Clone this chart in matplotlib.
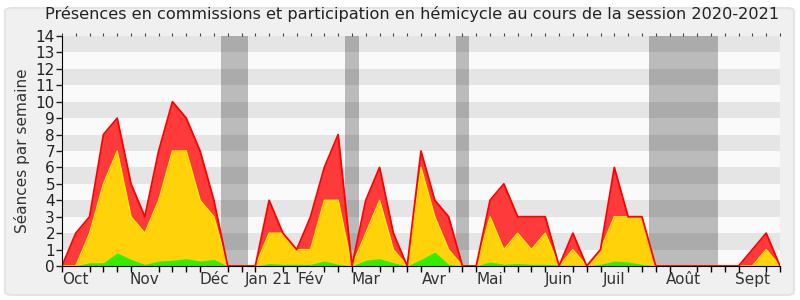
import matplotlib
matplotlib.use("Agg")
import matplotlib.pyplot as plt
from matplotlib.patches import FancyBboxPatch
import numpy as np

# Weekly values (session 2020-2021), week index 0..52
hemicycle = [0, 2, 3, 8, 9, 5, 3, 7, 10, 9, 7, 4, 0, 0, 0, 4, 2, 1, 3, 6, 8, 0,
             4, 6, 2, 0, 7, 4, 3, 0, 0, 4, 5, 3, 3, 3, 0, 2, 0, 1, 6, 3, 3, 0,
             0, 0, 0, 0, 0, 0, 1, 2, 0]
commission = [0, 0, 2, 5, 7, 3, 2, 4, 7, 7, 4, 3, 0, 0, 0, 2, 2, 1, 1, 4, 4, 0,
              2, 4, 1, 0, 6, 3, 1, 0, 0, 3, 1, 2, 1, 2, 0, 1, 0, 1, 3, 3, 3, 0,
              0, 0, 0, 0, 0, 0, 0, 1, 0]
interventions = [0, 0, 0.2, 0.2, 0.8, 0.4, 0.1, 0.3, 0.35, 0.45, 0.3, 0.4, 0, 0, 0,
                 0.15, 0.1, 0.1, 0.1, 0.3, 0.1, 0, 0.35, 0.45, 0.2, 0, 0.4, 0.85,
                 0.1, 0, 0, 0.25, 0.1, 0.15, 0.1, 0.1, 0.05, 0.05, 0, 0.1, 0.3,
                 0.25, 0.1, 0, 0, 0, 0, 0, 0, 0, 0, 0, 0]
vacations = [(11.5, 13.5), (20.5, 21.5), (28.5, 29.5), (42.5, 47.5)]
month_labels = ["Oct", "Nov", "Déc", "Jan 21", "Fév", "Mar", "Avr", "Mai",
                "Juin", "Juil", "Août", "Sept"]
month_weeks = [1, 6, 11, 15, 18, 22, 27, 31, 36, 40, 45, 50]
title = "Présences en commissions et participation en hémicycle au cours de la session 2020-2021"
ylabel = "Séances par semaine"

plt.rcParams['font.family'] = ['DejaVu Sans']
fig = plt.figure(figsize=(8, 3), dpi=100)
fig.patch.set_facecolor("#ffffff")
bg = FancyBboxPatch((5 / 800, 5 / 300), 789 / 800, 287 / 300,
                    boxstyle="round,pad=0,rounding_size=0.01",
                    transform=fig.transFigure, facecolor="#f0f0f0",
                    edgecolor="#e4e4e4", linewidth=1.5, zorder=-10)
fig.patches.append(bg)

ax = fig.add_axes([62 / 800, 34 / 300, 718 / 800, 230 / 300])
ax.set_facecolor("#fafafa")
x = np.arange(len(hemicycle))
ax.set_xlim(0, len(hemicycle) - 1)
ax.set_ylim(0, 14)

for k in range(1, 14, 2):
    ax.axhspan(k, k + 1, color="#e5e5e5", lw=0, zorder=0)
for a, b in vacations:
    ax.axvspan(a, b, color="black", alpha=0.25, lw=0, zorder=1)

ax.fill_between(x, 0, hemicycle, color="#ff3a3a", lw=0, zorder=2)
ax.plot(x, hemicycle, color="#ff0000", lw=1.3, zorder=5)
ax.fill_between(x, 0, commission, color="#ffd20a", lw=0, zorder=3)
ax.plot(x, commission, color="#ffee00", lw=1.0, zorder=4)
ax.fill_between(x, 0, interventions, color="#33ee00", lw=0, zorder=4)

for s in ["top", "right"]:
    ax.spines[s].set_visible(False)
ax.spines["left"].set_color("black")
ax.spines["bottom"].set_color("black")
ax.spines["left"].set_zorder(6)
ax.spines["bottom"].set_zorder(6)

ax.set_yticks(range(0, 15))
ax.tick_params(axis="y", length=4, width=1, labelsize=11, pad=1, colors="#222222")
ax.set_xticks(x, minor=True)
ax.set_xticks(month_weeks)
ax.set_xticklabels(month_labels)
ax.tick_params(axis="x", which="major", length=0, labelsize=11, pad=4, colors="#333333")
ax.tick_params(axis="x", which="minor", length=4, width=1, color="black")

sec = ax.secondary_xaxis("top")
sec.set_xticks(x)
sec.set_xticklabels([])
sec.tick_params(length=2, width=0.8, color="#444444")
sec.spines["top"].set_visible(False)

ax.set_ylabel(ylabel, fontsize=11, color="#333333", labelpad=4)
fig.text(0.515, 0.953, title, ha="center", va="center", fontsize=11.6, color="#222222")

fig.savefig("out.png", dpi=100)
